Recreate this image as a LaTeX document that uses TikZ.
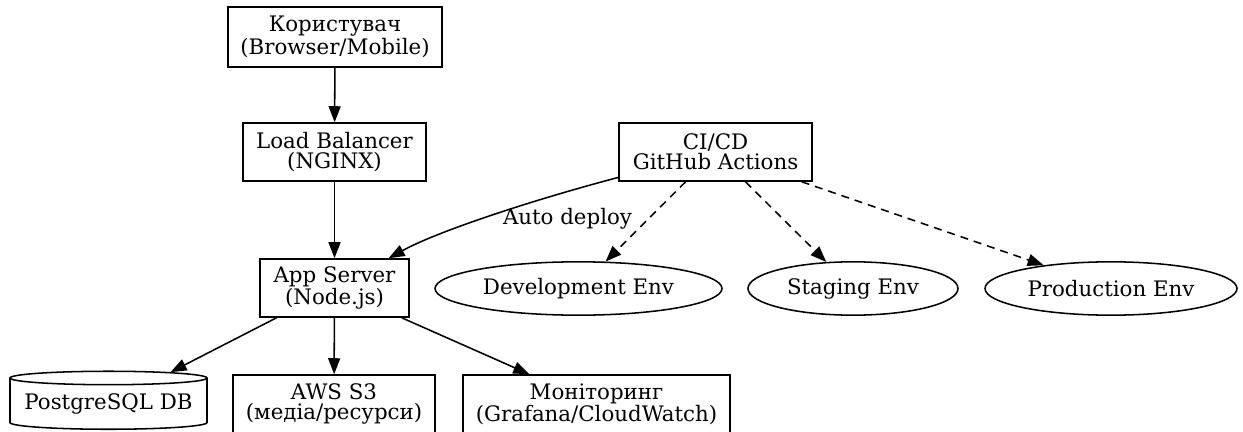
\documentclass[tikz,border=0pt]{standalone}
\usepackage{fontspec}
\setmainfont{DejaVu Serif}
\usetikzlibrary{arrows.meta,shapes.geometric}
\begin{document}
\begin{tikzpicture}[x=0.75pt,y=-0.75pt,
  box/.style={draw,line width=\dglw,inner sep=0pt,align=center,minimum height=43.5pt},
  env/.style={draw,ellipse,line width=\dglw,inner sep=0pt,minimum height=40pt},
  store/.style={draw,cylinder,shape border rotate=90,aspect=0.08,line width=\dglw,
    inner sep=0pt,minimum width=147.75pt,minimum height=43.5pt},
  flow/.style={line width=\dglw,-{Triangle[length=12pt,width=9pt]}},
  deploy/.style={flow,dash pattern=on 6pt off 4.5pt}]
% deployment diagram, coordinates in pixels of the drawing
\ifx\dglw\undefined\newdimen\dglw\fi
\global\def\dgdraw{\draw[flow]}
\global\def\dgstop{;}
\dglw=1.15pt
\fontsize{16pt}{15pt}\selectfont
\useasboundingbox (0,0) rectangle (1243,432)\dgstop
\node[box,minimum width=160.5pt,minimum height=45pt] (user) at (335,37)
 {Користувач\\(Browser/Mobile)}\dgstop
\node[box,minimum width=137.25pt] (lb) at (334.5,152)
 {Load Balancer\\(NGINX)}\dgstop
\node[box,minimum width=111.75pt] (app) at (334.5,288)
 {App Server\\(Node.js)}\dgstop
\node[box,minimum width=144.75pt] (ci) at (715.5,152)
 {CI/CD\\GitHub Actions}\dgstop
\node[env,minimum width=215.25pt] (dev) at (578.5,288.5) {Development Env}\dgstop
\node[env,minimum width=157.5pt] (stage) at (853,288.5) {Staging Env}\dgstop
\node[env,minimum width=189pt] (prod) at (1111,288.5) {Production Env}\dgstop
\node[store] (db) at (108.5,404) {PostgreSQL DB}\dgstop
\node[box,minimum width=151.5pt] (s3) at (334,404)
 {AWS S3\\(медіа/ресурси)}\dgstop
\node[box,minimum width=200.25pt] (mon) at (596.5,404)
 {Моніторинг\\(Grafana/CloudWatch)}\dgstop
\node (auto) at (567.5,219) {Auto deploy}\dgstop
\dgdraw (user) -- (lb)\dgstop
\dgdraw (lb) -- (app)\dgstop
\dgdraw (ci) .. controls (540,198) and (440,230) .. (app)\dgstop
\draw[deploy] (ci) -- (dev)\dgstop
\draw[deploy] (ci) -- (stage)\dgstop
\draw[deploy] (ci) -- (prod)\dgstop
\dgdraw (app) -- (db)\dgstop
\dgdraw (app) -- (s3)\dgstop
\dgdraw (app) -- (mon)\dgstop
\end{tikzpicture}
\end{document}
